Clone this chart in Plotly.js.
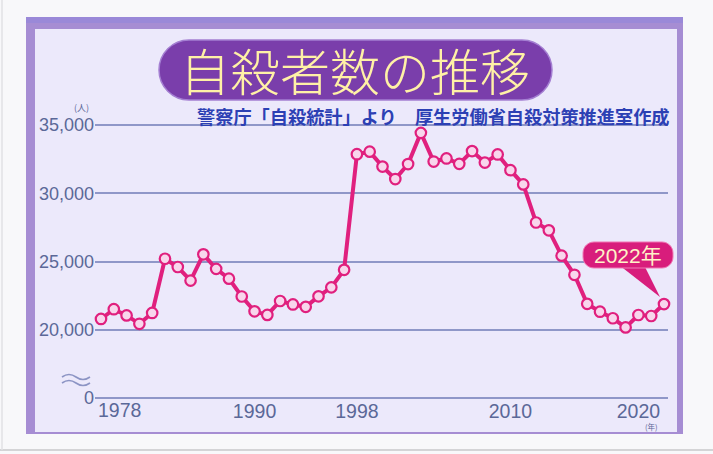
<!DOCTYPE html>
<html><head><meta charset="utf-8">
<script src="https://cdn.plot.ly/plotly-3.0.1.min.js"></script>
<style>html,body{margin:0;padding:0;background:#f8f8fa;}#c{width:713px;height:454px;}</style>
</head><body><div id="c"></div>
<script>
// ---- data ----
const years = [1978,1979,1980,1981,1982,1983,1984,1985,1986,1987,1988,1989,1990,1991,1992,1993,1994,1995,1996,1997,1998,1999,2000,2001,2002,2003,2004,2005,2006,2007,2008,2009,2010,2011,2012,2013,2014,2015,2016,2017,2018,2019,2020,2021,2022];
const suicides = [20788,21503,21048,20434,21228,25202,24596,23599,25524,24460,23742,22436,21346,21084,22104,21851,21679,22445,23104,24391,32863,33048,31957,31042,32143,34427,32325,32552,32155,33093,32249,32845,31690,30651,27858,27283,25427,24025,21897,21321,20840,20169,21081,21007,21881];
const xTickVals = [1990,1998,2010,2020];
const xFirstLabel = '1978';
const yTickVals = [15000,20000,25000,30000,35000];
const yTickText = ['0','20,000','25,000','30,000','35,000'];
const titleText = '自殺者数の推移';
const subtitleText = '警察庁「自殺統計」より　厚生労働省自殺対策推進室作成';
const calloutText = '2022年';

// ---- layout helpers (pixel -> paper) ----
const L=95, T=123, W=573, H=277;
const PX = px => (px-L)/W;
const PY = py => (T+H-py)/H;
const P = (x,y) => PX(x).toFixed(5)+','+PY(y).toFixed(5);
function rr(x0,y0,x1,y1,r){
  const k=0.5523*r;
  return `M${P(x0+r,y0)} L${P(x1-r,y0)} C${P(x1-r+k,y0)} ${P(x1,y0+r-k)} ${P(x1,y0+r)} L${P(x1,y1-r)} C${P(x1,y1-r+k)} ${P(x1-r+k,y1)} ${P(x1-r,y1)} L${P(x0+r,y1)} C${P(x0+r-k,y1)} ${P(x0,y1-r+k)} ${P(x0,y1-r)} L${P(x0,y0+r)} C${P(x0,y0+r-k)} ${P(x0+r-k,y0)} ${P(x0+r,y0)} Z`;
}
function wave(x0,x1,y,a){
  const m=(x0+x1)/2, q=(x1-x0)/4;
  return `M${P(x0,y)} Q${P(x0+q,y-a)} ${P(m,y)} T${P(x1,y)}`;
}
const rect=(x0,y0,x1,y1,fill)=>({type:'rect',xref:'paper',yref:'paper',x0:PX(x0),x1:PX(x1),y0:PY(y1),y1:PY(y0),fillcolor:fill,line:{width:0},layer:'below'});

const sans = '"Liberation Sans",Arial,sans-serif';
const axisCol = '#5b6898';
const pink = '#e0207e';

const trace = {
  x: years, y: suicides, type:'scatter', mode:'lines+markers',
  line:{color:pink,width:4},
  marker:{size:10.5,color:'#f8d6ec',line:{color:pink,width:2.2}},
  cliponaxis:false, hoverinfo:'skip'
};

const shapes = [
  rect(0,0,713,454,'#f8f8fa'),
  rect(26,17,683,434,'#a68dd3'),
  rect(26,17,683,23,'#9a89d8'),
  rect(35,29,677,432,'#ece9fb'),
  {type:'line',xref:'paper',yref:'paper',x0:PX(0),x1:PX(713),y0:PY(450),y1:PY(450),line:{color:'#d4d4d6',width:2},layer:'below'},
  {type:'line',xref:'paper',yref:'paper',x0:PX(2),x1:PX(2),y0:PY(0),y1:PY(450),line:{color:'#e2e2e4',width:1.5},layer:'below'},
  {type:'path',xref:'paper',yref:'paper',path:rr(159,40,552,100,30),fillcolor:'#7a3eab',line:{color:'#a47fd2',width:1.5},layer:'above'},
  {type:'path',xref:'paper',yref:'paper',path:wave(62,90,377,5),line:{color:'#8c94c4',width:1.6}},
  {type:'path',xref:'paper',yref:'paper',path:wave(62,90,383,5),line:{color:'#8c94c4',width:1.6}},
  {type:'path',xref:'paper',yref:'paper',path:`M${P(619,265)} L${P(644,265)} L${P(660,297)} Z`,fillcolor:'#d81d7c',line:{width:0},layer:'above'},
  {type:'path',xref:'paper',yref:'paper',path:rr(583,242,673,268,11),fillcolor:'#d81d7c',line:{color:'#f07ab5',width:1},layer:'above'}
];

const annotations = [
  {xref:'paper',yref:'paper',x:PX(355),y:PY(69),text:titleText,showarrow:false,xanchor:'center',yanchor:'middle',borderpad:0,
   font:{family:'"Noto Sans CJK JP",sans-serif',size:50,color:'#fff1a6',weight:300}},
  {xref:'paper',yref:'paper',x:PX(671),y:PY(116),text:subtitleText,showarrow:false,xanchor:'right',yanchor:'middle',borderpad:0,
   font:{family:'"Noto Sans CJK JP",sans-serif',size:18.2,color:'#2c40b4',weight:700}},
  {xref:'paper',yref:'paper',x:PX(81),y:PY(107),text:'(人)',showarrow:false,xanchor:'center',yanchor:'middle',
   font:{family:'"Noto Sans CJK JP",sans-serif',size:9,color:axisCol}},
  {xref:'paper',yref:'paper',x:PX(651),y:PY(426),text:'(年)',showarrow:false,xanchor:'center',yanchor:'middle',
   font:{family:'"Noto Sans CJK JP",sans-serif',size:7.5,color:axisCol}},
  {xref:'x',yref:'paper',x:years[0],y:PY(410),xshift:-5,text:xFirstLabel,showarrow:false,xanchor:'left',yanchor:'middle',
   font:{family:sans,size:19.5,color:axisCol}},
  {xref:'paper',yref:'paper',x:PX(628),y:PY(255),text:calloutText,showarrow:false,xanchor:'center',yanchor:'middle',
   font:{family:'"Liberation Sans","Noto Sans CJK JP",sans-serif',size:21,color:'#fff3c8'}}
];

const layout = {
  width:713, height:454,
  margin:{l:L, r:713-L-W, t:T, b:454-T-H, pad:0},
  paper_bgcolor:'#f8f8fa', plot_bgcolor:'rgba(0,0,0,0)',
  showlegend:false,
  xaxis:{range:[1977.531,2022.313], tickvals:xTickVals, ticks:'', showgrid:false, zeroline:false, showline:false,
         tickfont:{family:sans,size:19.5,color:axisCol}, ticklabelstandoff:-3, fixedrange:true},
  yaxis:{range:[14850,35150], tickvals:yTickVals, ticktext:yTickText, ticks:'', showgrid:true, gridcolor:'#8f97c8', gridwidth:2,
         zeroline:false, showline:false, tickfont:{family:sans,size:18,color:axisCol}, fixedrange:true},
  shapes:shapes, annotations:annotations
};
Plotly.newPlot('c',[trace],layout,{displayModeBar:false,staticPlot:true});
</script></body></html>
